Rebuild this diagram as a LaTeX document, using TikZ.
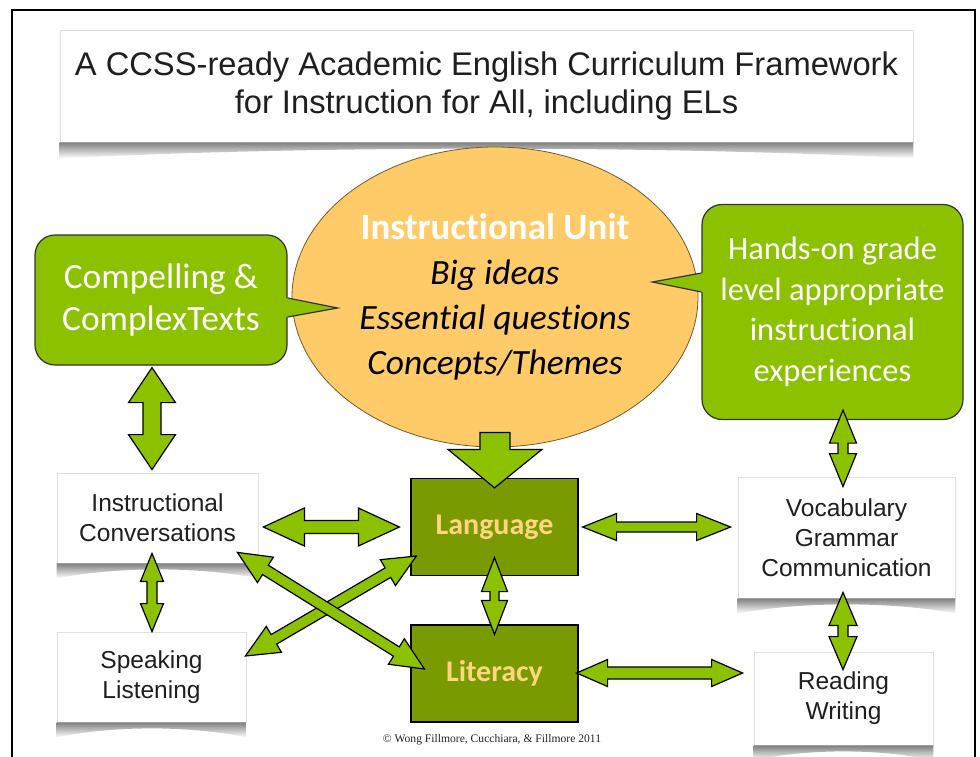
\documentclass[tikz,border=0pt]{standalone}
\usepackage{fontspec}
\setmainfont{Liberation Sans}
\newfontfamily\calibri[Ligatures=NoCommon]{Carlito}
\newfontfamily\cambria{Liberation Serif}
\usetikzlibrary{calc,shapes.geometric}
\definecolor{lgreen}{HTML}{8CC100}
\definecolor{boxolive}{HTML}{7A9A01}
\definecolor{ellfill}{HTML}{FFCA68}
\definecolor{langtxt}{HTML}{FFD57F}
\tikzset{
  fatstyle/.style={fill=lgreen, draw=black, line width=1.2pt, line join=miter},
  gbox/.style={rounded corners=20pt, fill=lgreen, draw=black!80, line width=1.2pt,
    text=white, font=\calibri\fontsize{35.5}{42}\selectfont, align=center, inner sep=0pt},
  obox/.style={fill=boxolive, draw=black, line width=1.2pt, text=langtxt,
    font=\calibri\bfseries\fontsize{30}{36}\selectfont, inner sep=0pt,
    minimum width=167pt, minimum height=97pt},
  wbox/.style={fill=white, draw=black!12, line width=0.8pt, text=black!88,
    font=\fontsize{24.5}{30}\selectfont, align=center, inner sep=0pt},
  shadowfill/.style={top color=black!50, bottom color=white}
}
\newcommand\fatarrow[5]{%
\draw[fatstyle] (#1)
 -- ($(#1)!#5pt!(#2)!#4pt!90:(#2)$)
 -- ($(#1)!#5pt!(#2)!#3pt!90:(#2)$)
 -- ($(#2)!#5pt!(#1)!#3pt!-90:(#1)$)
 -- ($(#2)!#5pt!(#1)!#4pt!-90:(#1)$)
 -- (#2)
 -- ($(#2)!#5pt!(#1)!#4pt!90:(#1)$)
 -- ($(#2)!#5pt!(#1)!#3pt!90:(#1)$)
 -- ($(#1)!#5pt!(#2)!#3pt!-90:(#2)$)
 -- ($(#1)!#5pt!(#2)!#4pt!-90:(#2)$)
 -- cycle;}
\newcommand\curlshadow[2]{%
\shade[shadowfill] (#1.south west)
 -- ($(#1.south west)+(0,#2)$)
 .. controls ($(#1.south west)!0.3!(#1.south east)+(0,3)$) and ($(#1.south west)!0.7!(#1.south east)+(0,3)$)
 .. ($(#1.south east)+(0,#2)$) -- (#1.south east) -- cycle;}
\begin{document}
\begin{tikzpicture}[x=1pt,y=-1pt]
\useasboundingbox (0,0) rectangle (980,757);
\fill[white] (0,0) rectangle (980,757);
\draw[line width=2.5pt] (12,10) rectangle (975,800);

% title
\node[wbox, minimum width=853pt, minimum height=112pt, font=\fontsize{32.7}{38}\selectfont] (title) at (486.5,86)
  {A CCSS-ready Academic English Curriculum Framework\\for Instruction for All, including ELs};
\curlshadow{title}{16}

% ellipse
\node[ellipse, fill=ellfill, draw=black!55!ellfill, line width=0.8pt, minimum width=406pt,
  minimum height=300pt, inner sep=0pt, align=center, font=\calibri\fontsize{35.5}{45}\selectfont] (ell) at (495,297)
  {{\bfseries\fontsize{37}{45}\selectfont\color{white}Instructional Unit}\\\itshape Big ideas\\\itshape Essential questions\\\itshape Concepts/Themes};

% callouts
\node[gbox, minimum width=252pt, minimum height=130pt] (cct) at (161,300) {Compelling \&\\ComplexTexts};
\fill[lgreen] ($(cct.east)+(-2,-2)$) -- ($(cct.east)+(50,8)$) -- ($(cct.east)+(-2,17)$) -- cycle;
\draw[black!80, line width=1.2pt, line join=miter] ($(cct.east)+(0,-2)$) -- ($(cct.east)+(50,8)$) -- ($(cct.east)+(0,17)$);

\node[gbox, minimum width=261pt, minimum height=215pt, font=\calibri\fontsize{32.5}{40.5}\selectfont] (hb) at (832.5,312)
  {Hands-on grade\\level appropriate\\instructional\\experiences};
\fill[lgreen] ($(hb.west)+(2,-39)$) -- ($(hb.west)+(-49,-30)$) -- ($(hb.west)+(2,-20)$) -- cycle;
\draw[black!80, line width=1.2pt, line join=miter] ($(hb.west)+(0,-39)$) -- ($(hb.west)+(-49,-30)$) -- ($(hb.west)+(0,-20)$);

% white boxes
\node[wbox, minimum width=201pt, minimum height=90pt] (ic) at (157.5,518) {Instructional\\Conversations};
\curlshadow{ic}{15}
\node[wbox, minimum width=189pt, minimum height=90pt] (sl) at (151.5,677) {Speaking\\Listening};
\curlshadow{sl}{15}
\node[wbox, minimum width=217pt, minimum height=121pt] (vgc) at (846.5,537.5) {Vocabulary\\Grammar\\Communication};
\curlshadow{vgc}{15}
\node[wbox, minimum width=179pt, minimum height=93pt] (rw) at (843.5,698.5) {Reading\\Writing};
\curlshadow{rw}{15}

% olive boxes
\node[obox] (lang) at (494.5,527) {Language};
\node[obox] (lit) at (494.5,673.5) {Literacy};

% copyright
\node[font=\cambria\fontsize{11.6}{13}\selectfont, text=black!85] (copy) at (492,740)
  {© Wong Fillmore, Cucchiara, \& Fillmore 2011};

% arrow end points
\coordinate (a1s) at ($(cct.south)+(-9,2)$);
\coordinate (a1e) at ($(ic.north)+(-5.5,-3)$);
\coordinate (a2s) at ($(ic.south)+(-5.5,-10)$);
\coordinate (a2e) at ($(sl.north)+(0.5,0)$);
\coordinate (a3s) at ($(ic.east)+(5,9)$);
\coordinate (a3e) at ($(lang.west)+(-11,0)$);
\coordinate (a4s) at ($(ic.south east)+(-21,-11)$);
\coordinate (a4e) at ($(lit.west)+(14,-4.5)$);
\coordinate (a5s) at ($(sl.east)+(-1,-21)$);
\coordinate (a5e) at ($(lang.west)+(6,29)$);
\coordinate (a6s) at ($(lang.east)+(4,0)$);
\coordinate (a6e) at ($(vgc.west)+(-7,-10.5)$);
\coordinate (a7s) at ($(lit.east)+(-2,-0.5)$);
\coordinate (a7e) at ($(rw.west)+(-11,-25.5)$);
\coordinate (a8s) at ($(lang.south)+(0,-18.5)$);
\coordinate (a8e) at ($(lit.north)+(0,10)$);
\coordinate (a9s) at ($(hb.south)+(10.5,-10)$);
\coordinate (a9e) at ($(vgc.north)+(-3.5,10)$);
\coordinate (a10s) at ($(vgc.south)+(-3.5,-6)$);
\coordinate (a10e) at ($(rw.north)+(-0.5,18)$);

% big down arrow
\draw[fatstyle] ($(ell.south)+(-15,-15)$) -- ($(ell.south)+(15,-15)$) -- ($(ell.south)+(15,2)$)
  -- ($(ell.south)+(47,2)$) -- ($(lang.north)+(0,10)$) -- ($(ell.south)+(-47,2)$)
  -- ($(ell.south)+(-15,2)$) -- cycle;

\fatarrow{a1s}{a1e}{9}{23.5}{35}
\fatarrow{a2s}{a2e}{5}{11.5}{28}
\fatarrow{a3s}{a3e}{6.5}{19}{41}
\fatarrow{a5s}{a5e}{5.5}{15}{33}
\fatarrow{a4s}{a4e}{5.5}{15}{33}
\fatarrow{a6s}{a6e}{5}{13.5}{34}
\fatarrow{a7s}{a7e}{6}{13.5}{31}
\fatarrow{a8s}{a8e}{4.5}{13}{34}
\fatarrow{a9s}{a9e}{5}{13.5}{33}
\fatarrow{a10s}{a10e}{5}{14}{33}
\end{tikzpicture}
\end{document}
